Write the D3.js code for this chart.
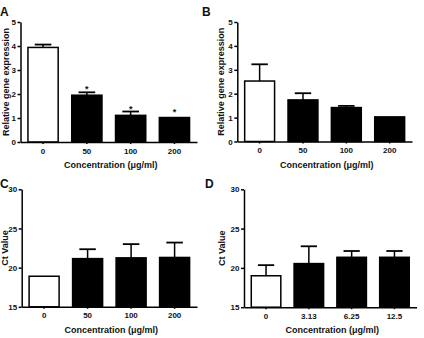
<!DOCTYPE html>
<html>
<head>
<meta charset="utf-8">
<script src="https://cdn.jsdelivr.net/npm/d3@7"></script>
<style>
  html, body { margin: 0; padding: 0; background: #fff; }
  svg { display: block; }
  text { font-family: "Liberation Sans", Arial, sans-serif; font-weight: bold; fill: #111; }
</style>
</head>
<body>
<svg id="chart" width="424" height="338"></svg>
<script>
// ---- data ----
const catsAB = ["0", "50", "100", "200"];
const catsC = ["0", "50", "100", "200"];
const catsD = ["0", "3.13", "6.25", "12.5"];

const valuesA = [3.94, 1.95, 1.11, 1.02];
const errorsA = [0.12, 0.12, 0.16, 0.0];
const starsA = [false, true, true, true];

const valuesB = [2.53, 1.74, 1.42, 1.03];
const errorsB = [0.70, 0.28, 0.07, 0.0];

const valuesC = [18.9, 21.15, 21.25, 21.3];
const errorsC = [0.0, 1.2, 1.75, 1.9];

const valuesD = [19.0, 20.55, 21.35, 21.35];
const errorsD = [1.35, 2.2, 0.8, 0.8];

const ticksAB = [0, 1, 2, 3, 4, 5];
const ticksCD = [15, 20, 25, 30];

const xTitle = "Concentration (\u03bcg/ml)";
const yTitleAB = "Relative gene expression";
const yTitleCD = "Ct Value";

// ---- layout ----
const panels = [
  { letter: "A", lx: 0, ly: 16, x0: 20.5, x1: 197, yTop: 22, yBot: 142, domain: [0, 5], ticks: ticksAB,
    cats: catsAB, vals: valuesA, errs: errorsA, stars: starsA, yTitle: yTitleAB, yTitleX: 9 },
  { letter: "B", lx: 202, ly: 16, x0: 237.3, x1: 412, yTop: 22, yBot: 141.5, domain: [0, 5], ticks: ticksAB,
    cats: catsAB, vals: valuesB, errs: errorsB, stars: null, yTitle: yTitleAB, yTitleX: 224 },
  { letter: "C", lx: 0, ly: 188, x0: 21.7, x1: 197, yTop: 189.3, yBot: 306.8, domain: [15, 30], ticks: ticksCD,
    cats: catsC, vals: valuesC, errs: errorsC, stars: null, yTitle: yTitleCD, yTitleX: 8 },
  { letter: "D", lx: 205, ly: 188, x0: 244, x1: 416.5, yTop: 189.3, yBot: 307.2, domain: [15, 30], ticks: ticksCD,
    cats: catsD, vals: valuesD, errs: errorsD, stars: null, yTitle: yTitleCD, yTitleX: 225 }
];

const svg = d3.select("#chart");
const SW = 1.5;

panels.forEach(p => {
  const g = svg.append("g");
  const x = d3.scaleBand().domain(p.cats).range([p.x0, p.x1])
    .paddingInner(0.31).paddingOuter(0.17);
  const y = d3.scaleLinear().domain(p.domain).range([p.yBot, p.yTop]);

  // panel letter
  svg.append("text").attr("x", p.lx).attr("y", p.ly)
    .style("font-size", "12px").text(p.letter);

  // bars
  g.selectAll("rect.bar").data(p.vals).enter().append("rect")
    .attr("x", (d, i) => x(p.cats[i]))
    .attr("y", d => y(d))
    .attr("width", x.bandwidth())
    .attr("height", d => y(p.domain[0]) - y(d))
    .attr("fill", (d, i) => i === 0 ? "#fff" : "#000")
    .attr("stroke", "#000").attr("stroke-width", SW);

  // error bars (upward only)
  p.vals.forEach((v, i) => {
    const e = p.errs[i];
    if (e <= 0) return;
    const cx = x(p.cats[i]) + x.bandwidth() / 2;
    const capW = x.bandwidth() * 0.55;
    g.append("line").attr("x1", cx).attr("x2", cx).attr("y1", y(v)).attr("y2", y(v + e))
      .attr("stroke", "#000").attr("stroke-width", SW);
    g.append("line").attr("x1", cx - capW / 2).attr("x2", cx + capW / 2)
      .attr("y1", y(v + e)).attr("y2", y(v + e))
      .attr("stroke", "#000").attr("stroke-width", SW + 0.3);
  });

  // significance stars
  if (p.stars) {
    p.vals.forEach((v, i) => {
      if (!p.stars[i]) return;
      const cx = x(p.cats[i]) + x.bandwidth() / 2;
      const top = y(v + p.errs[i]);
      g.append("text").attr("x", cx).attr("y", top - (p.errs[i] > 0 ? 0 : 3))
        .attr("text-anchor", "middle").style("font-size", "9px").text("*");
    });
  }

  // axes
  const yAxis = d3.axisLeft(y).tickValues(p.ticks).tickFormat(d3.format("d"))
    .tickSize(3).tickSizeOuter(0).tickPadding(1.5);
  const ya = g.append("g").attr("transform", `translate(${p.x0},0)`).call(yAxis);
  const xAxis = d3.axisBottom(x).tickSize(2).tickSizeOuter(0).tickPadding(4);
  const xa = g.append("g").attr("transform", `translate(0,${p.yBot})`).call(xAxis);
  [ya, xa].forEach(a => {
    a.selectAll("path, line").attr("stroke", "#000").attr("stroke-width", SW);
    a.selectAll("text").style("font-size", "8px").style("font-family", "Liberation Sans, Arial, sans-serif")
      .style("font-weight", "bold").attr("fill", "#111");
  });

  // axis titles
  g.append("text").attr("x", (p.x0 + p.x1) / 2 + 2).attr("y", p.yBot + 26)
    .attr("text-anchor", "middle").style("font-size", "9px").text(xTitle);
  g.append("text")
    .attr("transform", `translate(${p.yTitleX},${(p.yTop + p.yBot) / 2}) rotate(-90)`)
    .attr("text-anchor", "middle").style("font-size", "9px").text(p.yTitle);
});
</script>
</body>
</html>
